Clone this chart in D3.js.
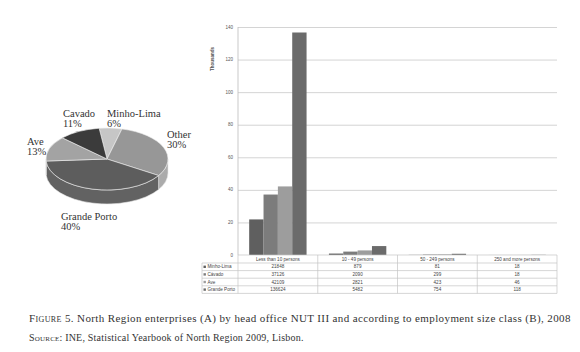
<!DOCTYPE html>
<html>
<head>
<meta charset="utf-8">
<script src="https://cdn.jsdelivr.net/npm/d3@7"></script>
<style>
  body { margin: 0; background: #fff; }
  svg { display: block; }
  .grid line { stroke: #d4d4d4; stroke-width: 1; }
  .grid path { stroke: none; }
  .tick-lbl { font-family: Arial, 'Liberation Sans', sans-serif; font-size: 4.5px; fill: #555; }
  .tbl { font-family: Arial, 'Liberation Sans', sans-serif; font-size: 4.6px; fill: #444; }
  .serif { font-family: 'Liberation Serif', 'DejaVu Serif', serif; fill: #333; }
</style>
</head>
<body>
<svg width="580" height="352"></svg>
<script>
// pie (A): share of enterprises by NUT III
const regioes = ['Minho-Lima', 'Other', 'Grande Porto', 'Ave', 'Cavado']
const percentagens = [6, 30, 40, 13, 11]

// bars (B): thousands of enterprises by size class
const classes = ['Less than 10 persons', '10 - 49 persons', '50 - 249 persons', '250 and more persons']
const series = ['Minho-Lima', 'Cávado', 'Ave', 'Grande Porto']
const minhoLima = [21848, 879, 81, 18]
const cavado = [37126, 2090, 299, 18]
const ave = [42109, 2821, 423, 46]
const grandePorto = [136624, 5482, 754, 118]
const yTicks = [0, 20, 40, 60, 80, 100, 120, 140]

const svg = d3.select('svg')

/* ---------- pie 3d ---------- */
const cx = 107, cy = 159, rx = 61, ry = 31, depth = 14
const corTopo = { 'Minho-Lima': '#c6c6c6', 'Other': '#979797', 'Grande Porto': '#5d5d5d', 'Ave': '#a3a3a3', 'Cavado': '#3b3b3b' }
const corLado = { 'Minho-Lima': '#b0b0b0', 'Other': '#ababab', 'Grande Porto': '#626262', 'Ave': '#8c8c8c', 'Cavado': '#333' }

const pie = d3.pie().sort(null).startAngle(-7.4 * Math.PI / 180).endAngle(352.6 * Math.PI / 180)
const fatias = pie(percentagens).map((d, i) => ({ ...d, name: regioes[i] }))

const pt = (t, dy = 0) => [cx + rx * Math.sin(t), cy - ry * Math.cos(t) + dy]

function topo(d) {
  const a = pt(d.startAngle), b = pt(d.endAngle)
  const large = d.endAngle - d.startAngle > Math.PI ? 1 : 0
  return `M${cx},${cy}L${a}A${rx},${ry} 0 ${large} 1 ${b}Z`
}

function lado(t0, t1) {
  const a = pt(t0), b = pt(t1), b2 = pt(t1, depth), a2 = pt(t0, depth)
  return `M${a}A${rx},${ry} 0 0 1 ${b}L${b2}A${rx},${ry} 0 0 0 ${a2}Z`
}

const pieG = svg.append('g')

/*lados visiveis (frente)*/
fatias.forEach(d => {
  const t0 = Math.max(d.startAngle, Math.PI / 2)
  const t1 = Math.min(d.endAngle, 3 * Math.PI / 2)
  if (t1 > t0) {
    pieG.append('path')
      .attr('d', lado(t0, t1))
      .attr('fill', corLado[d.name])
      .attr('stroke', '#e6e6e6')
      .attr('stroke-width', 0.6)
  }
})

pieG.selectAll('.topo')
  .data(fatias)
  .enter()
  .append('path')
  .attr('class', 'topo')
  .attr('d', topo)
  .attr('fill', d => corTopo[d.name])
  .attr('stroke', '#eee')
  .attr('stroke-width', 0.6)

/*rotulos*/
const rotulos = [
  { name: 'Cavado', x: 63, y: 117 },
  { name: 'Minho-Lima', x: 107, y: 117 },
  { name: 'Other', x: 167, y: 138 },
  { name: 'Ave', x: 27, y: 145 },
  { name: 'Grande Porto', x: 61, y: 220 }
]
rotulos.forEach(r => {
  const i = regioes.indexOf(r.name)
  const t = pieG.append('text').attr('class', 'serif').attr('font-size', 10.5)
  t.append('tspan').attr('x', r.x).attr('y', r.y).text(r.name)
  t.append('tspan').attr('x', r.x).attr('y', r.y + 9.5).text(percentagens[i] + '%')
})

/* ---------- barras ---------- */
const pLeft = 238, pRight = 557, pTop = 27, base = 255
const dados = classes.map((c, i) => ({
  classe: c,
  valores: [minhoLima[i], cavado[i], ave[i], grandePorto[i]]
}))
const coresBarra = ['#5f5f5f', '#7c7c7c', '#9d9d9d', '#6b6b6b']

const x0 = d3.scaleBand().domain(classes).range([pLeft, pRight]).padding(0)
const x1 = d3.scaleBand().domain(series).range([0, x0.bandwidth()]).paddingInner(0).paddingOuter(0.78)
const y = d3.scaleLinear().domain([0, 140]).range([base, pTop])

const chart = svg.append('g')

chart.append('g')
  .attr('class', 'grid')
  .attr('transform', `translate(${pLeft},0)`)
  .call(d3.axisLeft(y).tickValues(yTicks.slice(1)).tickSize(-(pRight - pLeft)).tickFormat(''))

chart.selectAll('.tick-lbl')
  .data(yTicks)
  .enter()
  .append('text')
  .attr('class', 'tick-lbl')
  .attr('x', pLeft - 5)
  .attr('y', d => y(d) + 1.5)
  .attr('text-anchor', 'end')
  .text(d => d)

chart.append('text')
  .attr('class', 'tick-lbl')
  .attr('font-weight', 'bold')
  .attr('font-size', 4.3)
  .attr('transform', `translate(214,59) rotate(-90)`)
  .attr('text-anchor', 'middle')
  .text('Thousands')

const grupos = chart.selectAll('.grupo')
  .data(dados)
  .enter()
  .append('g')
  .attr('transform', d => `translate(${x0(d.classe)},0)`)

grupos.selectAll('rect')
  .data(d => d.valores.map((v, i) => ({ serie: series[i], v: v / 1000, i })))
  .enter()
  .append('rect')
  .attr('x', d => x1(d.serie))
  .attr('y', d => y(d.v))
  .attr('width', x1.bandwidth())
  .attr('height', d => base - y(d.v))
  .attr('fill', d => coresBarra[d.i])

/*eixo*/
chart.append('line')
  .attr('x1', pLeft).attr('x2', pLeft).attr('y1', pTop).attr('y2', base)
  .attr('stroke', '#bbb').attr('stroke-width', 0.8)

/* ---------- tabela ---------- */
const tabLeft = 202, headH = 8, rowH = 7.6
const tab = svg.append('g')
const linha = (xa, ya, xb, yb) => tab.append('line')
  .attr('x1', xa).attr('y1', ya).attr('x2', xb).attr('y2', yb)
  .attr('stroke', '#c4c4c4').attr('stroke-width', 0.7)

const fundo = base + headH + rowH * series.length
linha(pLeft, base, pRight, base)
for (let r = 0; r <= series.length; r++) {
  linha(tabLeft, base + headH + r * rowH, pRight, base + headH + r * rowH)
}
linha(tabLeft, base + headH, tabLeft, fundo)
classes.forEach(c => linha(x0(c), base, x0(c), fundo))
linha(pRight, base, pRight, fundo)

tab.selectAll('.hdr')
  .data(classes)
  .enter()
  .append('text')
  .attr('class', 'tbl')
  .attr('x', d => x0(d) + x0.bandwidth() / 2)
  .attr('y', base + 5.6)
  .attr('text-anchor', 'middle')
  .text(d => d)

series.forEach((s, r) => {
  const yy = base + headH + r * rowH
  tab.append('rect')
    .attr('x', tabLeft + 1.5).attr('y', yy + 2.6)
    .attr('width', 2.4).attr('height', 2.4)
    .attr('fill', coresBarra[r])
  tab.append('text')
    .attr('class', 'tbl')
    .attr('x', tabLeft + 5.5).attr('y', yy + 5.4)
    .text(s)
  dados.forEach(d => {
    tab.append('text')
      .attr('class', 'tbl')
      .attr('x', x0(d.classe) + x0.bandwidth() / 2)
      .attr('y', yy + 5.4)
      .attr('text-anchor', 'middle')
      .text(d.valores[r])
  })
})

/* ---------- legenda ---------- */
const cap = svg.append('text').attr('class', 'serif').attr('font-size', 11)
  .attr('letter-spacing', 0.38).attr('x', 29).attr('y', 322)
cap.append('tspan').attr('font-variant', 'small-caps').text('Figure 5.')
cap.append('tspan').text(' North Region enterprises (A) by head office NUT III and according to employment size class (B), 2008')

const src = svg.append('text').attr('class', 'serif').attr('font-size', 10)
  .attr('letter-spacing', 0.2).attr('x', 29).attr('y', 341)
src.append('tspan').attr('font-variant', 'small-caps').text('Source:')
src.append('tspan').text(' INE, Statistical Yearbook of North Region 2009, Lisbon.')
</script>
</body>
</html>
